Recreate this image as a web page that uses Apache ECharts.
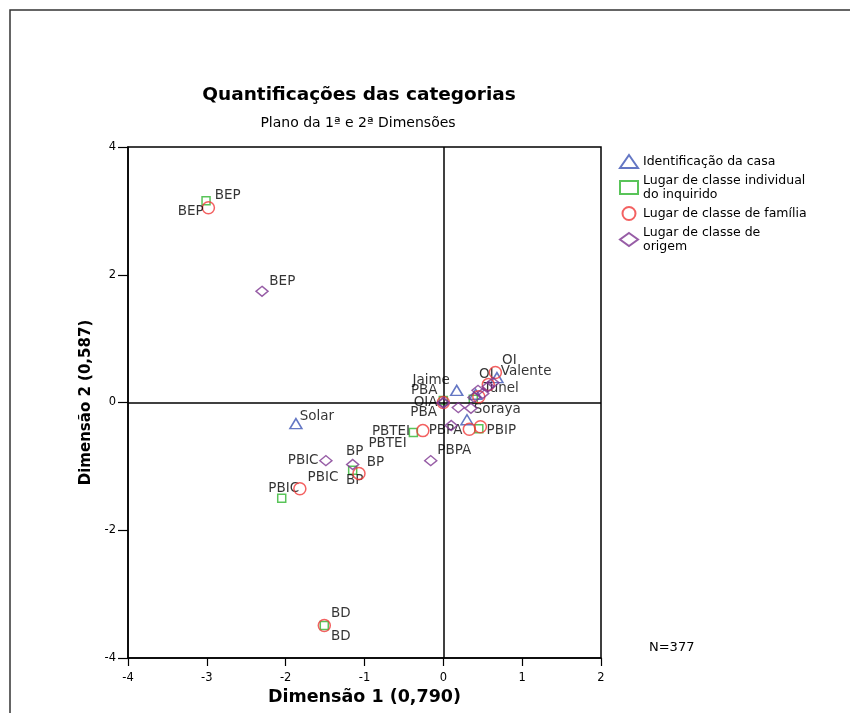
<!DOCTYPE html>
<html><head><meta charset="utf-8">
<script src="https://cdn.jsdelivr.net/npm/echarts@6/dist/echarts.min.js"></script>
<style>html,body{margin:0;padding:0;background:#fff}#c{width:850px;height:713px}</style>
</head><body><div id="c"></div>
<script>
// ---- data ----
const seriesNames = ['Identificação da casa','Lugar de classe individual do inquirido','Lugar de classe de família','Lugar de classe de origem'];

const idNames = ['Solar','Jaime','Soraya','Valente','Tunel'];
const idX     = [-1.87, 0.17, 0.30, 0.68, 0.41];
const idY     = [-0.33, 0.19, -0.27, 0.39, 0.13];

const indNames = ['BEP','PBIC','BP','PBTEI','PBA','PBIP','OI','BD'];
const indX     = [-3.01, -2.05, -1.15, -0.38, 0.00, 0.45, 0.38, -1.51];
const indY     = [3.16, -1.50, -1.06, -0.47, 0.03, -0.41, 0.05, -3.49];

const famNames = ['BEP','PBIC','BP','PBTEI','OIA','PBPA','OI','BD','','',''];
const famX     = [-2.98, -1.82, -1.07, -0.26, 0.00, 0.33, 0.66, -1.51, 0.47, 0.45, 0.57];
const famY     = [3.05, -1.35, -1.11, -0.44, 0.00, -0.42, 0.47, -3.49, -0.38, 0.09, 0.28];

const oriNames = ['BEP','PBIC','BP','PBPA','PBA','','','','','','','','',''];
const oriX     = [-2.30, -1.49, -1.15, 0.10, 0.00, -0.16, 0.00, 0.19, 0.35, 0.39, 0.44, 0.50, 0.57, 0.63];
const oriY     = [1.74, -0.91, -0.97, -0.36, -0.01, -0.91, 0.00, -0.08, -0.09, 0.08, 0.19, 0.14, 0.25, 0.31];

const noteText = 'N=377';

// ---- label placement (style, kept apart from data) ----
const idLab  = [['right',-5,-7],['left',2,-10],['right',-2,-10],['right',-5,-6],['right',-1,-6]];
const indLab = [['right',2,-5],['top',2,4],['bottom',2,-3],['left',0,11],['left',1,-10],['right',1,2],['right',-1,-25],['right',0,-12]];
const famLab = [['left',4,4],['right',-1,-11],['right',-1,-11],['left',-4,1],['left',3,0],['left',2,1],['right',-2,-12],['right',-2,11]];
const oriLab = [['right',-1.5,-10],['left',1.5,0],['top',2,2],['bottom',3,10],['left',2.5,9]];

function build(names, xs, ys, labs) {
  return xs.map((x, i) => {
    const item = { value: [x, ys[i]], name: names[i] || '' };
    const l = labs[i];
    if (l && names[i]) item.label = { show: true, position: l[0], offset: [l[1], l[2]] };
    else item.label = { show: false };
    return item;
  });
}

const FONT = 'DejaVu Sans';
const labelBase = { show: true, formatter: '{b}', color: '#000', fontFamily: FONT, fontSize: 13.5, distance: 2 };
const colors = ['#3d55b5', '#2fb52f', '#f03a3a', '#7d3590'];

const chart = echarts.init(document.getElementById('c'), null, { renderer: 'canvas' });
chart.setOption({
  animation: false,
  backgroundColor: '#fff',
  title: [
    { text: 'Quantificações das categorias', left: 354, top: 81, textAlign: 'center',
      textStyle: { fontFamily: FONT, fontWeight: 'bold', fontSize: 18.5, color: '#000' } },
    { text: 'Plano da 1ª e 2ª Dimensões', left: 353, top: 111, textAlign: 'center',
      textStyle: { fontFamily: FONT, fontWeight: 'normal', fontSize: 14, color: '#000' } }
  ],
  legend: {
    orient: 'vertical', left: 614, top: 149, itemWidth: 18, itemHeight: 13, itemGap: 5,
    data: seriesNames,
    formatter: function (n) {
      if (n === seriesNames[1]) return 'Lugar de classe individual\ndo inquirido';
      if (n === seriesNames[3]) return 'Lugar de classe de\norigem';
      return n;
    },
    textStyle: { fontFamily: FONT, fontSize: 12.5, color: '#000', lineHeight: 13.5 }
  },
  grid: { left: 128, right: 249, top: 147, bottom: 55, outerBoundsMode: 'none', containLabel: false,
    show: true, borderColor: '#000', borderWidth: 1.5, backgroundColor: 'transparent' },
  xAxis: {
    type: 'value', min: -4, max: 2, interval: 1,
    name: 'Dimensão 1 (0,790)', nameLocation: 'middle', nameGap: 30,
    nameTextStyle: { fontFamily: FONT, fontWeight: 'bold', fontSize: 17.5, color: '#000' },
    axisLine: { show: true, onZero: false, lineStyle: { color: '#000', width: 1.5 } },
    axisTick: { show: true, inside: false, length: 8, lineStyle: { color: '#000', width: 1.2 } },
    axisLabel: { fontFamily: FONT, fontSize: 11.5, color: '#000', margin: 14 },
    splitLine: { show: false }
  },
  yAxis: {
    type: 'value', min: -4, max: 4, interval: 2,
    name: 'Dimensão 2 (0,587)', nameLocation: 'middle', nameGap: 27, nameRotate: 90,
    nameTextStyle: { fontFamily: FONT, fontWeight: 'bold', fontSize: 15, color: '#000' },
    axisLine: { show: true, onZero: false, lineStyle: { color: '#000', width: 1.5 } },
    axisTick: { show: true, inside: false, length: 10, lineStyle: { color: '#000', width: 1.2 } },
    axisLabel: { fontFamily: FONT, fontSize: 11.5, color: '#000', margin: 12 },
    splitLine: { show: false }
  },
  graphic: [
    { type: 'rect', x: 0, y: 0, shape: { x: 10, y: 10, width: 1000, height: 1000 }, style: { fill: 'none', stroke: '#333', lineWidth: 1.5 }, silent: true },
    { type: 'text', left: 649, top: 641, style: { text: noteText, fontFamily: FONT, fontSize: 13, fill: '#000' }, silent: true }
  ],
  series: [
    { name: seriesNames[0], type: 'scatter', symbol: 'triangle', symbolSize: [12, 10], z: 3,
      itemStyle: { color: 'rgba(0,0,0,0)', borderColor: colors[0], borderWidth: 1.5 },
      label: labelBase, data: build(idNames, idX, idY, idLab),
      markLine: { silent: true, symbol: ['none', 'none'], label: { show: false },
        lineStyle: { color: '#000', width: 1.5, type: 'solid' }, animation: false,
        data: [{ xAxis: 0 }, { yAxis: 0 }] } },
    { name: seriesNames[1], type: 'scatter', symbol: 'rect', symbolSize: 8, z: 4,
      itemStyle: { color: 'rgba(0,0,0,0)', borderColor: colors[1], borderWidth: 1.5 },
      label: labelBase, data: build(indNames, indX, indY, indLab) },
    { name: seriesNames[2], type: 'scatter', symbol: 'circle', symbolSize: 12, z: 5,
      itemStyle: { color: 'rgba(0,0,0,0)', borderColor: colors[2], borderWidth: 1.5 },
      label: labelBase, data: build(famNames, famX, famY, famLab) },
    { name: seriesNames[3], type: 'scatter', symbol: 'diamond', symbolSize: [12, 10], z: 6,
      itemStyle: { color: 'rgba(0,0,0,0)', borderColor: colors[3], borderWidth: 1.5 },
      label: labelBase, data: build(oriNames, oriX, oriY, oriLab) }
  ]
});
</script></body></html>
